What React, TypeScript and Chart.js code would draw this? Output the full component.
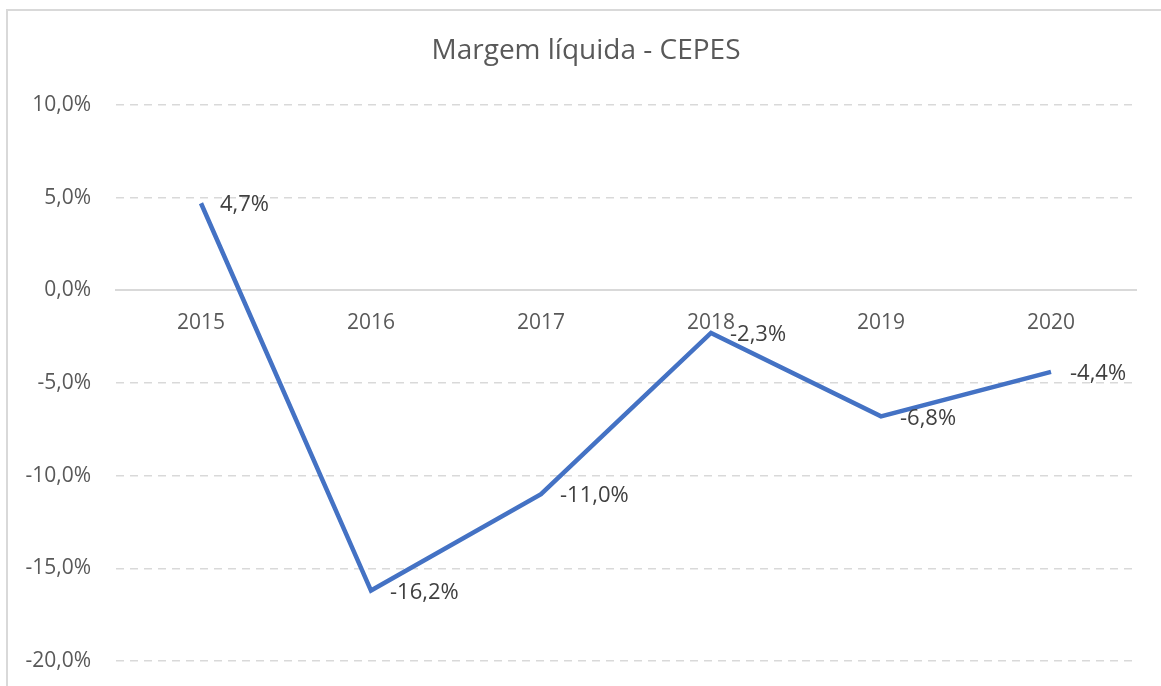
import React, { useEffect, useRef } from "react";
import { Chart, registerables } from "chart.js";

Chart.register(...registerables);

const categories = ["2015", "2016", "2017", "2018", "2019", "2020"];
const margemLiquida = [4.7, -16.2, -11.0, -2.3, -6.8, -4.4];
const yTicks = [10, 5, 0, -5, -10, -15, -20];
const chartTitle = "Margem líquida - CEPES";

const FONT = "'Open Sans', sans-serif";
const fmt = (v: number) => v.toFixed(1).replace(".", ",") + "%";

const framePlugin = {
  id: "frame",
  beforeDraw(chart: any) {
    const ctx = chart.ctx;
    ctx.save();
    ctx.fillStyle = "#ffffff";
    ctx.fillRect(0, 0, chart.width, chart.height);
    ctx.strokeStyle = "#d9d9d9";
    ctx.lineWidth = 2;
    ctx.beginPath();
    ctx.moveTo(7, chart.height);
    ctx.lineTo(7, 10);
    ctx.lineTo(chart.width, 10);
    ctx.stroke();
    ctx.fillStyle = "#595959";
    ctx.font = `28px ${FONT}`;
    ctx.textAlign = "center";
    ctx.textBaseline = "middle";
    ctx.fillText(chartTitle, 586, 51);
    ctx.restore();
  },
};

const labelPlugin = {
  id: "pointLabels",
  afterDatasetsDraw(chart: any) {
    const ctx = chart.ctx;
    const meta = chart.getDatasetMeta(0);
    ctx.save();
    ctx.fillStyle = "#404040";
    ctx.font = `22px ${FONT}`;
    ctx.textAlign = "left";
    ctx.textBaseline = "middle";
    meta.data.forEach((pt: any, i: number) => {
      ctx.fillText(fmt(margemLiquida[i]), pt.x + 19, pt.y + 2);
    });
    ctx.restore();
  },
};

export default function App() {
  const ref = useRef<HTMLCanvasElement>(null);
  useEffect(() => {
    document.body.style.margin = "0";
    const chart = new Chart(ref.current!, {
      type: "line",
      data: {
        labels: categories,
        datasets: [
          {
            data: margemLiquida,
            borderColor: "#4472C4",
            borderWidth: 4.5,
            pointRadius: 0,
            tension: 0,
            fill: false,
          },
        ],
      },
      options: {
        animation: false,
        responsive: false,
        layout: { padding: { top: 105, bottom: 25, right: 25, left: 0 } },
        plugins: {
          legend: { display: false },
          title: { display: false },
          tooltip: { enabled: false },
        },
        scales: {
          x: {
            position: { y: 0 } as any,
            offset: true,
            grid: { display: false, drawTicks: false },
            border: { display: true, color: "#d9d9d9", width: 2 },
            ticks: {
              color: "#595959",
              font: { family: FONT, size: 21 },
              padding: 20,
              maxRotation: 0,
            },
          },
          y: {
            min: -20,
            max: 10,
            afterFit(scale: any) {
              scale.width = 116;
              scale.paddingTop = 13;
              scale.paddingBottom = 13;
            },
            afterBuildTicks(scale: any) {
              scale.ticks = yTicks.map((v) => ({ value: v }));
            },
            grid: {
              color: (c: any) => (c.tick && c.tick.value === 0 ? "rgba(0,0,0,0)" : "#d9d9d9"),
              lineWidth: 1.5,
              drawTicks: false,
            },
            border: { display: false, dash: [8, 6] },
            ticks: {
              color: "#595959",
              font: { family: FONT, size: 21 },
              padding: 25,
              callback: (v: any) => fmt(Number(v)),
            },
          },
        },
      },
      plugins: [framePlugin, labelPlugin],
    });
    return () => chart.destroy();
  }, []);
  return <canvas ref={ref} width={1161} height={686} style={{ display: "block" }} />;
}
